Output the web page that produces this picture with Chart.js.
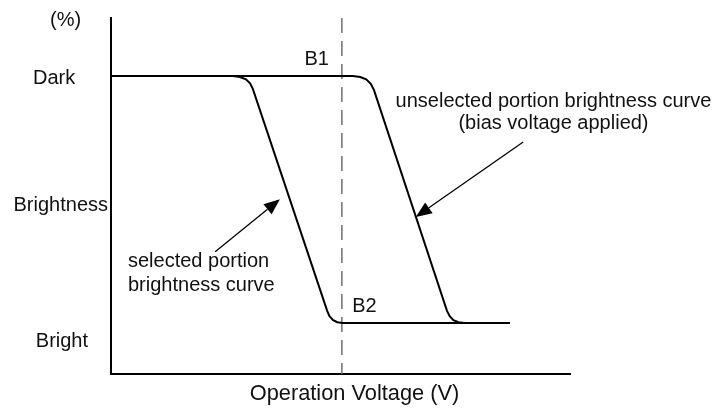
<!DOCTYPE html>
<html>
<head>
<meta charset="utf-8">
<script src="https://cdn.jsdelivr.net/npm/chart.js@4/dist/chart.umd.min.js"></script>
<style>
html,body{margin:0;padding:0;background:#fff;}
#wrap{width:718px;height:408px;position:relative;}
</style>
</head>
<body>
<div id="wrap"><canvas id="c" width="718" height="408"></canvas></div>
<script>
// ---- data (x = operation voltage, y = % darkness, Dark = 100) ----
const selectedX   = [0, 26.6, 28.1, 29.4, 30.3, 30.9, 47.1, 47.6, 48.4, 49.3, 50.5, 86.9];
const selectedY   = [100, 100, 99.7, 98.9, 97.6, 95.7, 21.2, 19.4, 18.1, 17.4, 17.1, 17.1];
const unselectedX = [0, 52.7, 54.3, 55.6, 56.6, 57.3, 73.2, 73.8, 74.6, 75.7, 77.1, 86.9];
const unselectedY = [100, 100, 99.7, 98.9, 97.4, 95.3, 21.2, 19.4, 18.1, 17.4, 17.1, 17.1];
const markerX = [50.3, 50.3];
const markerY = [119.5, 0];
const yLabels = ['(%)', 'Dark', 'Brightness', 'Bright'];
const xTitle = 'Operation Voltage (V)';
const pointNames = ['B1', 'B2'];
const noteUnselected = ['unselected portion brightness curve', '(bias voltage applied)'];
const noteSelected = ['selected portion', 'brightness curve'];

// ---- layout of text and arrows (in axis units) ----
const layoutTexts = [
  {t: yLabels[0], x: -6.5, y: 116.8, align: 'right', size: 20},
  {t: yLabels[1], x: -7.8, y: 97.3, align: 'right', size: 20},
  {t: yLabels[2], x: -0.65, y: 54.7, align: 'right', size: 20},
  {t: yLabels[3], x: -5.0, y: 9.1, align: 'right', size: 20},
  {t: pointNames[0], x: 44.8, y: 103.7, align: 'center', size: 20},
  {t: pointNames[1], x: 55.2, y: 20.8, align: 'center', size: 20},
  {t: noteUnselected[0], x: 96.4, y: 89.6, align: 'center', size: 20},
  {t: noteUnselected[1], x: 96.4, y: 82.2, align: 'center', size: 20},
  {t: noteSelected[0], x: 3.7, y: 35.9, align: 'left', size: 20},
  {t: noteSelected[1], x: 3.7, y: 27.9, align: 'left', size: 20},
  {t: xTitle, x: 53.05, y: -8.7, align: 'center', size: 21.8}
];
const layoutArrows = [
  {x1: 89.8, y1: 77.9, x2: 66.4, y2: 52.7},
  {x1: 22.7, y1: 41.0, x2: 36.8, y2: 58.7}
];

function pts(xs, ys) { return xs.map((x, i) => ({x: x, y: ys[i]})); }

const annotPlugin = {
  id: 'annot',
  afterDraw(chart) {
    const ctx = chart.ctx, xs = chart.scales.x, ys = chart.scales.y;
    ctx.save();
    ctx.fillStyle = '#111';
    ctx.textBaseline = 'alphabetic';
    layoutTexts.forEach(o => {
      ctx.font = o.size + 'px "Liberation Sans", Arial, sans-serif';
      ctx.textAlign = o.align;
      ctx.fillText(o.t, xs.getPixelForValue(o.x), ys.getPixelForValue(o.y));
    });
    ctx.strokeStyle = '#000';
    ctx.fillStyle = '#000';
    ctx.lineWidth = 1.3;
    layoutArrows.forEach(a => {
      const x1 = xs.getPixelForValue(a.x1), y1 = ys.getPixelForValue(a.y1);
      const x2 = xs.getPixelForValue(a.x2), y2 = ys.getPixelForValue(a.y2);
      const ang = Math.atan2(y2 - y1, x2 - x1);
      const L = 16, W = 6.5;
      const bx = x2 - L * Math.cos(ang), by = y2 - L * Math.sin(ang);
      ctx.beginPath();
      ctx.moveTo(x1, y1);
      ctx.lineTo(bx, by);
      ctx.stroke();
      ctx.beginPath();
      ctx.moveTo(x2, y2);
      ctx.lineTo(bx + W * Math.sin(ang), by - W * Math.cos(ang));
      ctx.lineTo(bx - W * Math.sin(ang), by + W * Math.cos(ang));
      ctx.closePath();
      ctx.fill();
    });
    ctx.restore();
  }
};

new Chart(document.getElementById('c').getContext('2d'), {
  type: 'line',
  data: {
    datasets: [
      {label: 'selected', data: pts(selectedX, selectedY), borderColor: '#000', borderWidth: 2, pointRadius: 0, tension: 0, fill: false},
      {label: 'unselected', data: pts(unselectedX, unselectedY), borderColor: '#000', borderWidth: 2, pointRadius: 0, tension: 0, fill: false},
      {label: 'marker', data: pts(markerX, markerY), borderColor: '#707070', borderWidth: 1.5, borderDash: [15, 8], pointRadius: 0, fill: false}
    ]
  },
  options: {
    responsive: false,
    animation: false,
    layout: {padding: {left: 111, top: 18, right: 148, bottom: 34}},
    plugins: {legend: {display: false}, tooltip: {enabled: false}},
    scales: {
      x: {type: 'linear', min: 0, max: 100, ticks: {display: false}, grid: {display: false, drawTicks: false}, border: {display: true, color: '#000', width: 2}},
      y: {type: 'linear', min: 0, max: 119.5, ticks: {display: false}, grid: {display: false, drawTicks: false}, border: {display: true, color: '#000', width: 2}}
    }
  },
  plugins: [annotPlugin]
});
</script>
</body>
</html>
